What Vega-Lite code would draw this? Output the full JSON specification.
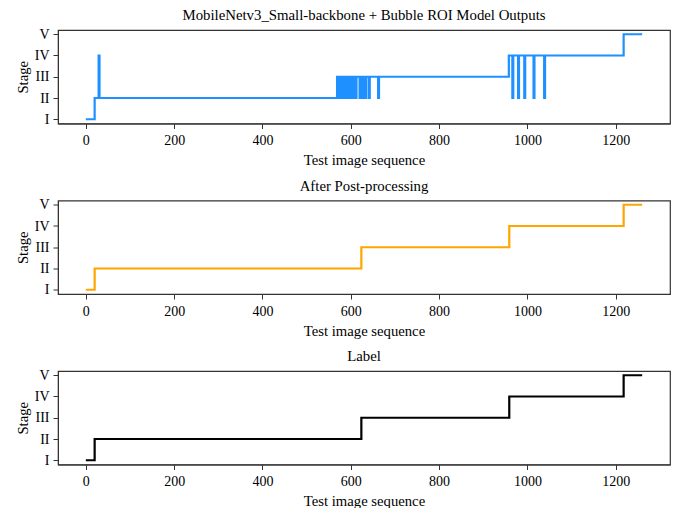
{
  "$schema": "https://vega.github.io/schema/vega-lite/v6.json",
  "autosize": {"type": "pad"},
  "padding": {"left": 14, "top": 7, "right": 11, "bottom": 2},
  "background": "white",
  "bounds": "flush",
  "spacing": 76.5,
  "config": {
    "font": "Liberation Serif",
    "view": {"stroke": "#333", "strokeWidth": 1.2},
    "axis": {
      "labelFont": "Liberation Serif",
      "labelFontSize": 14,
      "labelColor": "#000",
      "titleFont": "Liberation Serif",
      "titleFontSize": 14.7,
      "titleFontWeight": "normal",
      "titleColor": "#000",
      "tickColor": "#333",
      "domainColor": "#333",
      "tickSize": 5,
      "grid": false,
      "labelPadding": 3
    },
    "title": {"font": "Liberation Serif", "fontSize": 14.8, "fontWeight": "normal", "color": "#000", "baseline": "alphabetic", "offset": 4}
  },
  "datasets": {
    "model": [
      {"image": 0, "stage": 1}, {"image": 20, "stage": 2}, {"image": 29, "stage": 4}, {"image": 31, "stage": 2},
      {"image": 569, "stage": 3}, {"image": 571, "stage": 2}, {"image": 573, "stage": 3}, {"image": 575, "stage": 2},
      {"image": 579, "stage": 3}, {"image": 581, "stage": 2}, {"image": 583, "stage": 3}, {"image": 585, "stage": 2},
      {"image": 587, "stage": 3}, {"image": 589, "stage": 2}, {"image": 591, "stage": 3}, {"image": 593, "stage": 2},
      {"image": 596, "stage": 3}, {"image": 598, "stage": 2}, {"image": 600, "stage": 3}, {"image": 605, "stage": 2},
      {"image": 607, "stage": 3}, {"image": 611, "stage": 2}, {"image": 613, "stage": 3}, {"image": 620, "stage": 2},
      {"image": 622, "stage": 3}, {"image": 627, "stage": 2}, {"image": 629, "stage": 3}, {"image": 632, "stage": 2},
      {"image": 635, "stage": 3}, {"image": 641, "stage": 2}, {"image": 643, "stage": 3}, {"image": 662, "stage": 2},
      {"image": 664, "stage": 3},
      {"image": 958, "stage": 4}, {"image": 966, "stage": 2}, {"image": 968, "stage": 4}, {"image": 979, "stage": 2},
      {"image": 981, "stage": 4}, {"image": 993, "stage": 2}, {"image": 995, "stage": 4}, {"image": 1014, "stage": 2},
      {"image": 1016, "stage": 4}, {"image": 1038, "stage": 2}, {"image": 1040, "stage": 4},
      {"image": 1218, "stage": 5}, {"image": 1260, "stage": 5}
    ],
    "post": [
      {"image": 0, "stage": 1}, {"image": 20, "stage": 2}, {"image": 624, "stage": 3},
      {"image": 959, "stage": 4}, {"image": 1218, "stage": 5}, {"image": 1260, "stage": 5}
    ],
    "label": [
      {"image": 0, "stage": 1}, {"image": 20, "stage": 2}, {"image": 624, "stage": 3},
      {"image": 959, "stage": 4}, {"image": 1218, "stage": 5}, {"image": 1260, "stage": 5}
    ]
  },
  "vconcat": [
    {
      "title": "MobileNetv3_Small-backbone + Bubble ROI Model Outputs",
      "width": 612, "height": 93.5,
      "data": {"name": "model"},
      "mark": {"type": "line", "interpolate": "step-after", "color": "#1E90FF", "strokeWidth": 2.2},
      "encoding": {
        "x": {"field": "image", "type": "quantitative", "scale": {"domain": [-63, 1323], "nice": false, "zero": false},
              "axis": {"values": [0, 200, 400, 600, 800, 1000, 1200], "format": "d", "title": "Test image sequence", "labelPadding": 5, "titlePadding": 5}},
        "y": {"field": "stage", "type": "quantitative", "scale": {"domain": [0.8, 5.2], "nice": false, "zero": false},
              "axis": {"values": [1, 2, 3, 4, 5], "labelExpr": "['','I','II','III','IV','V'][datum.value]", "title": "Stage", "labelPadding": 4}}
      }
    },
    {
      "title": "After Post-processing",
      "width": 612, "height": 93.5,
      "data": {"name": "post"},
      "mark": {"type": "line", "interpolate": "step-after", "color": "#FFA500", "strokeWidth": 2.2},
      "encoding": {
        "x": {"field": "image", "type": "quantitative", "scale": {"domain": [-63, 1323], "nice": false, "zero": false},
              "axis": {"values": [0, 200, 400, 600, 800, 1000, 1200], "format": "d", "title": "Test image sequence", "labelPadding": 5, "titlePadding": 5}},
        "y": {"field": "stage", "type": "quantitative", "scale": {"domain": [0.8, 5.2], "nice": false, "zero": false},
              "axis": {"values": [1, 2, 3, 4, 5], "labelExpr": "['','I','II','III','IV','V'][datum.value]", "title": "Stage", "labelPadding": 4}}
      }
    },
    {
      "title": "Label",
      "width": 612, "height": 93.5,
      "data": {"name": "label"},
      "mark": {"type": "line", "interpolate": "step-after", "color": "#000000", "strokeWidth": 2.2},
      "encoding": {
        "x": {"field": "image", "type": "quantitative", "scale": {"domain": [-63, 1323], "nice": false, "zero": false},
              "axis": {"values": [0, 200, 400, 600, 800, 1000, 1200], "format": "d", "title": "Test image sequence", "labelPadding": 5, "titlePadding": 5}},
        "y": {"field": "stage", "type": "quantitative", "scale": {"domain": [0.8, 5.2], "nice": false, "zero": false},
              "axis": {"values": [1, 2, 3, 4, 5], "labelExpr": "['','I','II','III','IV','V'][datum.value]", "title": "Stage", "labelPadding": 4}}
      }
    }
  ]
}
